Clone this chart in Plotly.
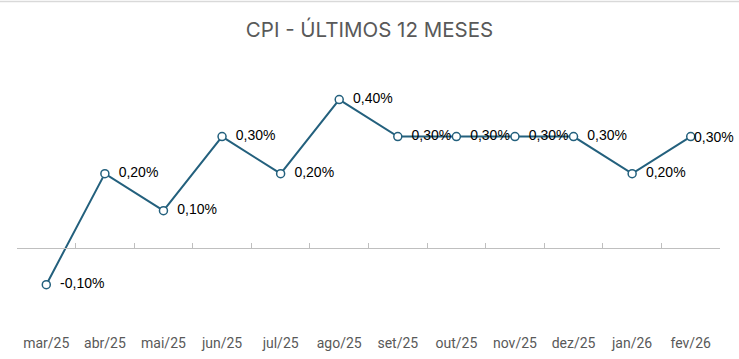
import plotly.graph_objects as go

months = ["mar/25", "abr/25", "mai/25", "jun/25", "jul/25", "ago/25",
          "set/25", "out/25", "nov/25", "dez/25", "jan/26", "fev/26"]
cpi = [-0.001, 0.002, 0.001, 0.003, 0.002, 0.004,
       0.003, 0.003, 0.003, 0.003, 0.002, 0.003]

line_color = "#23607D"
ymin, ymax = -0.00217, 0.00507
label_font = dict(family="Liberation Sans, Arial", size=14, color="#000000")

# all labels to the right of the point; the last one is tucked against its marker
templates = ["  %{y:.2%}"] * (len(cpi) - 1) + [""]

fig = go.Figure()
fig.add_trace(go.Scatter(
    x=months, y=cpi, mode="lines+markers+text",
    line=dict(color=line_color, width=2),
    marker=dict(size=8, color="white", line=dict(color=line_color, width=1.5)),
    texttemplate=templates, textposition="middle right",
    textfont=label_font,
    cliponaxis=False, hoverinfo="skip", showlegend=False,
))
fig.add_annotation(x=months[-1], y=cpi[-1], text=f"{cpi[-1]*100:.2f}%".replace(".", ","),
                   showarrow=False, xanchor="left", yanchor="middle", xshift=1,
                   font=label_font)
# axis line crossing at zero (category axis), ticks between categories
fig.add_trace(go.Scatter(x=months, y=[None]*len(months), xaxis="x2", showlegend=False, hoverinfo="skip"))

zero_pos = (0 - ymin) / (ymax - ymin)
fig.update_layout(
    width=739, height=359,
    margin=dict(l=17, r=19, t=60, b=31),
    paper_bgcolor="white", plot_bgcolor="white",
    separators=",.",
    title=dict(text="CPI - ÚLTIMOS 12 MESES", x=0.5, xanchor="center", y=0.918, yanchor="middle",
               font=dict(family="Inter, Open Sans", size=20.5, color="#595959")),
    xaxis=dict(type="category", showgrid=False, showline=False, ticks="",
               tickfont=dict(family="Liberation Sans Narrow, Roboto", size=14, color="#595959"),
               ticklabelstandoff=5, automargin=False,
               range=[-0.5, len(months) - 0.5], fixedrange=True),
    xaxis2=dict(type="category", overlaying="x", anchor="free", position=zero_pos,
                side="bottom", showgrid=False, showline=True, linecolor="#BFBFBF", linewidth=1,
                ticks="inside", ticklen=5, tickcolor="#BFBFBF", tickson="boundaries",
                showticklabels=False, automargin=False, range=[-0.5, len(months) - 0.5]),
    yaxis=dict(range=[ymin, ymax], visible=False, showgrid=False, zeroline=False, automargin=False),
    shapes=[dict(type="line", xref="paper", yref="paper", x0=-17/703, x1=1+19/703,
                 y0=1+58.5/268, y1=1+58.5/268, line=dict(color="#D9D9D9", width=1.5))],
)
fig.write_html("out.html", config={"displayModeBar": False},
               post_script="document.body.style.margin='0';")
